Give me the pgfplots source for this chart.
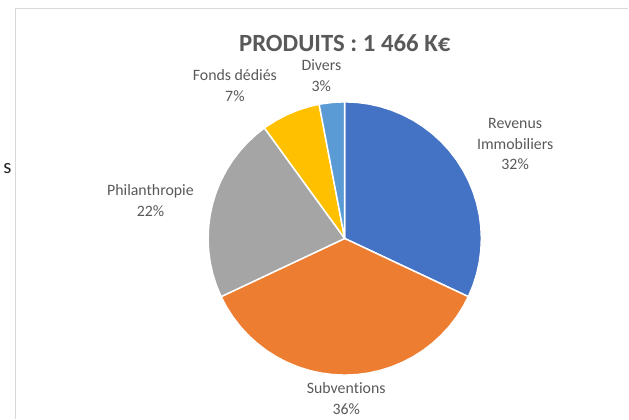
\documentclass[border=0pt]{standalone}
\usepackage{pgfplots}
\pgfplotsset{compat=1.18}
\usepackage{fontspec}
\setmainfont{Carlito}[Ligatures=NoCommon]
\definecolor{cBlue}{HTML}{4472C4}
\definecolor{cOrange}{HTML}{ED7D31}
\definecolor{cGray}{HTML}{A5A5A5}
\definecolor{cGold}{HTML}{FFC000}
\definecolor{cLBlue}{HTML}{5B9BD5}
\definecolor{txt}{HTML}{595959}
\definecolor{frame}{HTML}{D9D9D9}
\begin{document}
\begin{tikzpicture}[x=1bp,y=1bp]
\path (0,0) rectangle (629,422);
\draw[frame,line width=1.2bp] (12.5,0) -- (12.5,413.5) -- (629,413.5);
\node[font=\fontsize{21}{24}\selectfont,text=black!85] at (4,252) {s};
\begin{axis}[
  hide axis, scale only axis, width=275bp, height=275bp,
  xmin=-1, xmax=1, ymin=-1, ymax=1,
  at={(343.5bp,182bp)}, anchor=center,
  clip=false,
]
% Revenus Immobiliers 32%
\addplot[data cs=polar, fill=cBlue, draw=white, line width=1.5bp] coordinates {
(0,0) (90,1) (85,1) (80,1) (75,1) (70,1) (65,1) (60,1) (55,1) (50,1) (45,1) (40,1) (35,1) (30,1) (25,1) (20,1) (15,1) (10,1) (5,1) (0,1) (-5,1) (-10,1) (-15,1) (-20,1) (-25,1) (-25.2,1) (0,0)};
% Subventions 36%
\addplot[data cs=polar, fill=cOrange, draw=white, line width=1.5bp] coordinates {
(0,0) (-25.2,1) (-30,1) (-35,1) (-40,1) (-45,1) (-50,1) (-55,1) (-60,1) (-65,1) (-70,1) (-75,1) (-80,1) (-85,1) (-90,1) (-95,1) (-100,1) (-105,1) (-110,1) (-115,1) (-120,1) (-125,1) (-130,1) (-135,1) (-140,1) (-145,1) (-150,1) (-154.8,1) (0,0)};
% Philanthropie 22%
\addplot[data cs=polar, fill=cGray, draw=white, line width=1.5bp] coordinates {
(0,0) (-154.8,1) (-160,1) (-165,1) (-170,1) (-175,1) (-180,1) (-185,1) (-190,1) (-195,1) (-200,1) (-205,1) (-210,1) (-215,1) (-220,1) (-225,1) (-230,1) (-234,1) (0,0)};
% Fonds dedies 7%
\addplot[data cs=polar, fill=cGold, draw=white, line width=1.5bp] coordinates {
(0,0) (-234,1) (-235,1) (-240,1) (-245,1) (-250,1) (-255,1) (-259.2,1) (0,0)};
% Divers 3%
\addplot[data cs=polar, fill=cLBlue, draw=white, line width=1.5bp] coordinates {
(0,0) (-259.2,1) (-260,1) (-265,1) (-270,1) (0,0)};
\end{axis}
\begin{scope}[every node/.style={text=txt, font=\fontsize{16}{21}\selectfont, align=center}]
\node at (515,277) {Revenus\\Immobiliers\\32\%};
\node at (345,21) {Subventions\\36\%};
\node at (148,220) {Philanthropie\\22\%};
\node at (233,336) {Fonds dédiés\\7\%};
\node at (320,346) {Divers\\3\%};
\end{scope}
\node[text=txt, font=\fontsize{25}{30}\selectfont\bfseries] at (343.5,379) {PRODUITS : 1 466 K€};
\end{tikzpicture}
\end{document}
